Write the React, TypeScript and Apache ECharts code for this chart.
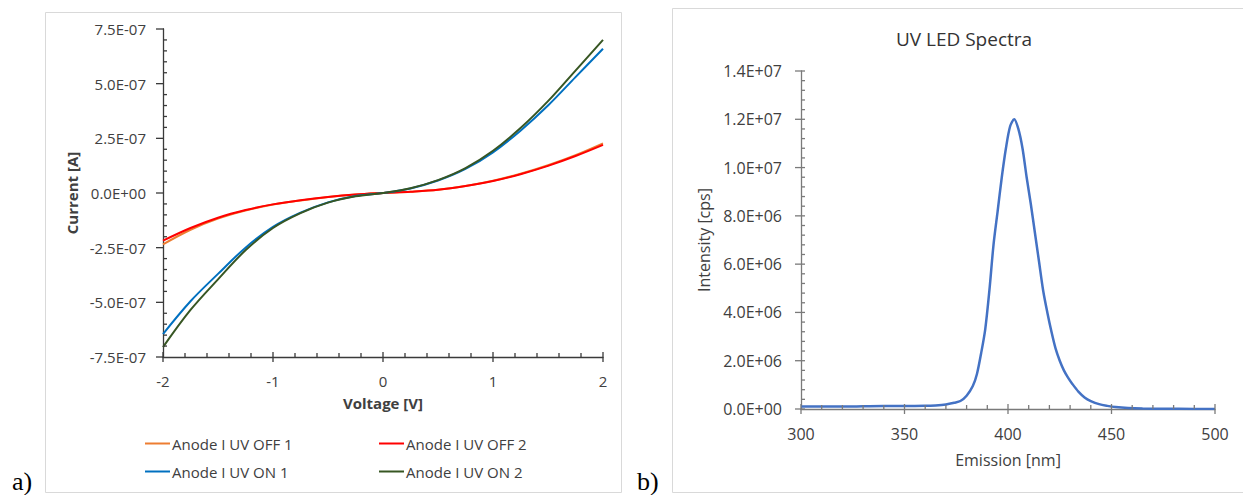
import React, { useEffect, useRef } from "react";
import * as echarts from "echarts";

// ---------- Panel a: I-V curves (current in units of 1e-7 A) ----------
const CURRENT_UNIT = 1e-7;
const voltage = [-2, -1.75, -1.5, -1.25, -1, -0.75, -0.5, -0.25, 0, 0.25, 0.5, 0.75, 1, 1.25, 1.5, 1.75, 2];
const uvOff1 = [-2.35, -1.68, -1.17, -0.8, -0.53, -0.34, -0.18, -0.07, 0, 0.06, 0.15, 0.32, 0.56, 0.88, 1.27, 1.73, 2.27];
const uvOff2 = [-2.18, -1.6, -1.13, -0.78, -0.52, -0.33, -0.18, -0.07, 0, 0.06, 0.15, 0.32, 0.55, 0.86, 1.24, 1.69, 2.2];
const uvOn1 = [-6.45, -4.95, -3.7, -2.5, -1.55, -0.9, -0.43, -0.14, 0, 0.21, 0.57, 1.1, 1.86, 2.85, 4.0, 5.3, 6.6];
const uvOn2 = [-7.05, -5.35, -3.95, -2.62, -1.6, -0.92, -0.44, -0.15, 0, 0.22, 0.59, 1.14, 1.93, 2.97, 4.2, 5.6, 7.0];
const ivSeriesNames = ["Anode I UV OFF 1", "Anode I UV OFF 2", "Anode I UV ON 1", "Anode I UV ON 2"];
const ivColors = ["#ED7D31", "#FF0000", "#0070C0", "#375623"];
const voltageTicks = [-2, -1, 0, 1, 2];
const currentTicks = [-7.5, -5, -2.5, 0, 2.5, 5, 7.5];

// ---------- Panel b: UV LED spectrum ----------
const wavelength = [300, 310, 320, 330, 340, 350, 360, 365, 370, 374, 377, 380, 383, 385, 387, 389, 391, 393, 395, 397, 399, 401, 403, 405, 407, 409, 411, 413, 415, 417, 419, 421, 423, 425, 427, 429, 431, 434, 437, 440, 444, 448, 452, 458, 465, 475, 490, 500];
const intensity = [1.0e5, 1.0e5, 1.0e5, 1.1e5, 1.2e5, 1.2e5, 1.3e5, 1.5e5, 1.9e5, 2.6e5, 3.3e5, 5.5e5, 9.5e5, 1.45e6, 2.3e6, 3.3e6, 4.9e6, 6.8e6, 8.2e6, 9.6e6, 10.8e6, 11.7e6, 12.0e6, 11.6e6, 10.8e6, 9.6e6, 8.5e6, 7.3e6, 6.1e6, 4.9e6, 4.0e6, 3.2e6, 2.5e6, 2.0e6, 1.6e6, 1.3e6, 1.05e6, 0.72e6, 0.48e6, 0.33e6, 0.2e6, 0.13e6, 0.08e6, 0.04e6, 0.02e6, 0.01e6, 0.005e6, 0.005e6];
const emissionTicks = [300, 350, 400, 450, 500];
const intensityTicks = [0, 2e6, 4e6, 6e6, 8e6, 10e6, 12e6, 14e6];

const MINOR_DIVISIONS = 5;
const FONT = '"Open Sans", sans-serif';
const TXT = "#404040";

function sci(v: number): string {
  if (v === 0 || Math.abs(v) < 1e-30) return "0.0E+00";
  let e = Math.floor(Math.log10(Math.abs(v)) + 1e-9);
  let m = Math.round((v / Math.pow(10, e)) * 10) / 10;
  if (Math.abs(m) >= 10) {
    m /= 10;
    e += 1;
  }
  return m.toFixed(1) + "E" + (e < 0 ? "-" : "+") + String(Math.abs(e)).padStart(2, "0");
}

function pairs(xs: number[], ys: number[]) {
  return xs.map((x, i) => [x, ys[i]]);
}

// tick list: [value, kind] kind 0 = major, 1 = minor
function tickList(majors: number[]): number[][] {
  const out: number[][] = [];
  for (let i = 0; i < majors.length; i++) {
    const a = majors[i];
    out.push([a, 0]);
    if (i < majors.length - 1) {
      const b = majors[i + 1];
      for (let k = 1; k < MINOR_DIVISIONS; k++) out.push([a + ((b - a) * k) / MINOR_DIVISIONS, 1]);
    }
  }
  return out;
}

// Axis tick marks drawn through the axis scale (major crossing/outside, minor inside)
function tickSeries(
  axisIdx: number,
  dir: string,
  majors: number[],
  base: number,
  color: string,
  lens: number[][],
  width: number
) {
  const data = tickList(majors).map((t) => (dir === "x" ? [t[0], base, t[1]] : [base, t[0], t[1]]));
  return {
    type: "custom",
    coordinateSystem: "cartesian2d",
    xAxisIndex: axisIdx,
    yAxisIndex: axisIdx,
    silent: true,
    clip: false,
    z: 10,
    dimensions: ["x", "y", "kind"],
    encode: { x: 0, y: 1 },
    data,
    renderItem: (_p: any, api: any) => {
      const pt = api.coord([api.value(0), api.value(1)]);
      const kind = api.value(2) === 1 ? 1 : 0;
      const s = lens[kind];
      const shape =
        dir === "x"
          ? { x1: pt[0], y1: pt[1] - s[0], x2: pt[0], y2: pt[1] + s[1] }
          : { x1: pt[0] - s[0], y1: pt[1], x2: pt[0] + s[1], y2: pt[1] };
      return { type: "line", shape, style: { stroke: color, lineWidth: width, fill: null } };
    },
  };
}

export default function App() {
  const ref = useRef<HTMLDivElement>(null);
  useEffect(() => {
    if (!ref.current) return;
    const chart = echarts.init(ref.current, undefined, { renderer: "svg" });
    const leftAxisColor = "#3a3a3a";
    const rightAxisColor = "#7a7a7a";

    const ivData = [uvOff1, uvOff2, uvOn1, uvOn2];

    const legendPos = [
      { left: 145, top: 436 },
      { left: 379, top: 436 },
      { left: 145, top: 464 },
      { left: 379, top: 464 },
    ];

    const option: any = {
      animation: false,
      backgroundColor: "#fff",
      title: {
        text: "UV LED Spectra",
        left: 959,
        top: 24,
        textAlign: "center",
        textStyle: { fontFamily: FONT, fontSize: 19, fontWeight: "normal", color: "#333" },
      },
      legend: ivSeriesNames.map((n, i) => ({
        data: [{ name: n, icon: "rect" }],
        left: legendPos[i].left,
        top: legendPos[i].top,
        padding: 0,
        itemWidth: 25,
        itemHeight: 2,
        selectedMode: false,
        textStyle: { fontFamily: FONT, fontSize: 15, color: TXT, padding: [0, 0, 0, -3] },
      })),
      grid: [
        { left: 163, top: 29, width: 440, height: 328 },
        { left: 801, top: 71, width: 414, height: 338 },
      ],
      xAxis: [
        {
          gridIndex: 0,
          type: "value",
          position: "bottom",
          min: -2,
          max: 2,
          interval: 1,
          name: "Voltage [V]",
          nameLocation: "middle",
          nameGap: 38,
          nameTextStyle: { fontFamily: FONT, fontSize: 15, fontWeight: "bold", color: TXT },
          axisLine: { show: true, onZero: false, lineStyle: { color: leftAxisColor, width: 1.3 } },
          axisTick: { show: false },
          axisLabel: { fontFamily: FONT, fontSize: 15, color: TXT, margin: 16 },
          splitLine: { show: false },
        },
        {
          gridIndex: 1,
          type: "value",
          position: "bottom",
          min: 300,
          max: 500,
          interval: 50,
          name: "Emission [nm]",
          nameLocation: "middle",
          nameGap: 43,
          nameTextStyle: { fontFamily: FONT, fontSize: 16, color: TXT },
          axisLine: { show: true, onZero: false, lineStyle: { color: rightAxisColor, width: 1.3 } },
          axisTick: { show: false },
          axisLabel: { fontFamily: FONT, fontSize: 16, color: TXT, margin: 17 },
          splitLine: { show: false },
        },
      ],
      yAxis: [
        {
          gridIndex: 0,
          type: "value",
          position: "left",
          min: -7.5,
          max: 7.5,
          interval: 2.5,
          name: "Current [A]",
          nameLocation: "middle",
          nameGap: 84,
          nameTextStyle: { fontFamily: FONT, fontSize: 15, fontWeight: "bold", color: TXT },
          axisLine: { show: true, onZero: false, lineStyle: { color: leftAxisColor, width: 1.3 } },
          axisTick: { show: false },
          axisLabel: {
            fontFamily: FONT,
            fontSize: 15,
            color: TXT,
            margin: 17,
            formatter: (v: number) => sci(v * CURRENT_UNIT),
          },
          splitLine: { show: false },
        },
        {
          gridIndex: 1,
          type: "value",
          position: "left",
          min: 0,
          max: 14000000,
          interval: 2000000,
          name: "Intensity [cps]",
          nameLocation: "middle",
          nameGap: 89,
          nameTextStyle: { fontFamily: FONT, fontSize: 16, color: TXT },
          axisLine: { show: true, onZero: false, lineStyle: { color: rightAxisColor, width: 1.3 } },
          axisTick: { show: false },
          axisLabel: { fontFamily: FONT, fontSize: 16, color: TXT, margin: 19, formatter: (v: number) => sci(v) },
          splitLine: { show: false },
        },
      ],
      series: [
        ...ivSeriesNames.map((n, i) => ({
          name: n,
          type: "line",
          xAxisIndex: 0,
          yAxisIndex: 0,
          data: pairs(voltage, ivData[i]),
          showSymbol: false,
          smooth: 0.35,
          color: ivColors[i],
          lineStyle: { color: ivColors[i], width: 2 },
          z: 3 + i,
        })),
        {
          name: "UV LED",
          type: "line",
          xAxisIndex: 1,
          yAxisIndex: 1,
          data: pairs(wavelength, intensity),
          showSymbol: false,
          smooth: 0.3,
          color: "#4472C4",
          lineStyle: { color: "#4472C4", width: 2.5 },
        },
        tickSeries(0, "x", voltageTicks, -7.5, leftAxisColor, [[5, 5], [4, 0]], 1.3),
        tickSeries(0, "y", currentTicks, -2, leftAxisColor, [[7, 1], [0, 4]], 1.3),
        tickSeries(1, "x", emissionTicks, 0, rightAxisColor, [[5, 5], [4, 0]], 1.3),
        tickSeries(1, "y", intensityTicks, 300, rightAxisColor, [[6, 4], [0, 4]], 1.3),
      ],
      graphic: [
        {
          type: "rect",
          shape: { x: 45.5, y: 12.5, width: 576, height: 480 },
          style: { fill: "none", stroke: "#d9d9d9", lineWidth: 1 },
          silent: true,
        },
        {
          type: "rect",
          shape: { x: 672.5, y: 8.5, width: 620, height: 484 },
          style: { fill: "none", stroke: "#d9d9d9", lineWidth: 1 },
          silent: true,
        },
        {
          type: "text",
          x: 12,
          y: 481,
          style: { text: "a)", font: '26px "Liberation Serif", serif', fill: "#000", verticalAlign: "middle" },
        },
        {
          type: "text",
          x: 637,
          y: 481,
          style: { text: "b)", font: '26px "Liberation Serif", serif', fill: "#000", verticalAlign: "middle" },
        },
      ],
    };
    chart.setOption(option);
    return () => chart.dispose();
  }, []);
  return (
    <div
      ref={ref}
      style={{ position: "fixed", left: 0, top: 0, width: 1243, height: 495, background: "#fff" }}
    />
  );
}
